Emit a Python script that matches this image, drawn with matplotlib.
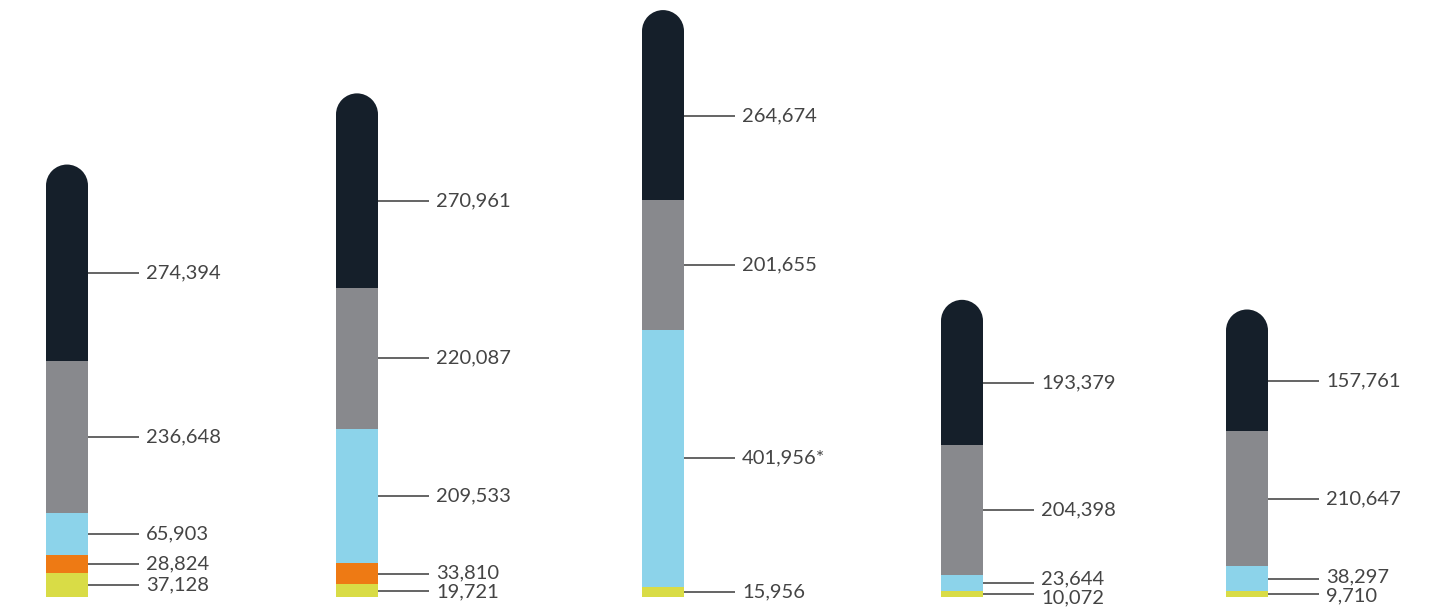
import matplotlib.pyplot as plt
from matplotlib.patches import Rectangle, Ellipse

# segment values, bottom to top: yellow, orange, blue, gray, dark
yellow = [37128, 19721, 15956, 10072, 9710]
orange = [28824, 33810, 0, 0, 0]
blue = [65903, 209533, 401956, 23644, 38297]
gray = [236648, 220087, 201655, 204398, 210647]
dark = [274394, 270961, 264674, 193379, 157761]
blue_labels = ["65,903", "209,533", "401,956*", "23,644", "38,297"]

colors = ["#d9dc46", "#ee7a14", "#8cd3ea", "#88898d", "#151f2a"]

# layout (pixels)
W, H = 1445, 614
centers = [67, 357, 663, 962, 1247]
bar_w = 42
base_px = 597
scale = 0.00064  # px per unit
cap_px = 21

fig = plt.figure(figsize=(W / 100, H / 100), dpi=100)
ax = fig.add_axes([0, 0, 1, 1])
ax.set_xlim(0, W)
ax.set_ylim(-(H - base_px) / scale, base_px / scale)
ax.axis("off")

unit = 1 / scale  # data units per pixel
cap = cap_px * unit
min_gap = 19 * unit


def fmt(v):
    return f"{v:,}"


for i, cx in enumerate(centers):
    segs = [yellow[i], orange[i], blue[i], gray[i], dark[i]]
    texts = [fmt(yellow[i]), fmt(orange[i]), blue_labels[i], fmt(gray[i]), fmt(dark[i])]
    x0 = cx - bar_w / 2
    bottom = 0
    marks = []
    for k, v in enumerate(segs):
        if v == 0:
            continue
        top = bottom + v
        ax.add_patch(Rectangle((x0, bottom), bar_w, v,
                               facecolor=colors[k], edgecolor="none"))
        if k == 4:
            # rounded cap on top of the last segment
            ax.add_patch(Ellipse((cx, top), bar_w, 2 * cap,
                                 facecolor=colors[k], edgecolor="none"))
        mid = (bottom + top) / 2
        marks.append([mid, mid, texts[k]])
        bottom = top

    # spread labels that are too close
    marks.sort(key=lambda m: -m[0])
    for _ in range(20):
        for j in range(len(marks) - 1):
            gap = marks[j][1] - marks[j + 1][1]
            if gap < min_gap:
                d = (min_gap - gap) / 2
                marks[j][1] += d
                marks[j + 1][1] -= d

    xr = cx + bar_w / 2
    for line_y, text_y, t in marks:
        ax.plot([xr, xr + 51], [line_y, line_y], color="#3a3a3a", lw=1.1,
                solid_capstyle="butt")
        ax.text(xr + 58, text_y, t, fontsize=14.5, family="Lato",
                color="#444444", ha="left", va="center")

fig.savefig("out.png", dpi=100, facecolor="white")
